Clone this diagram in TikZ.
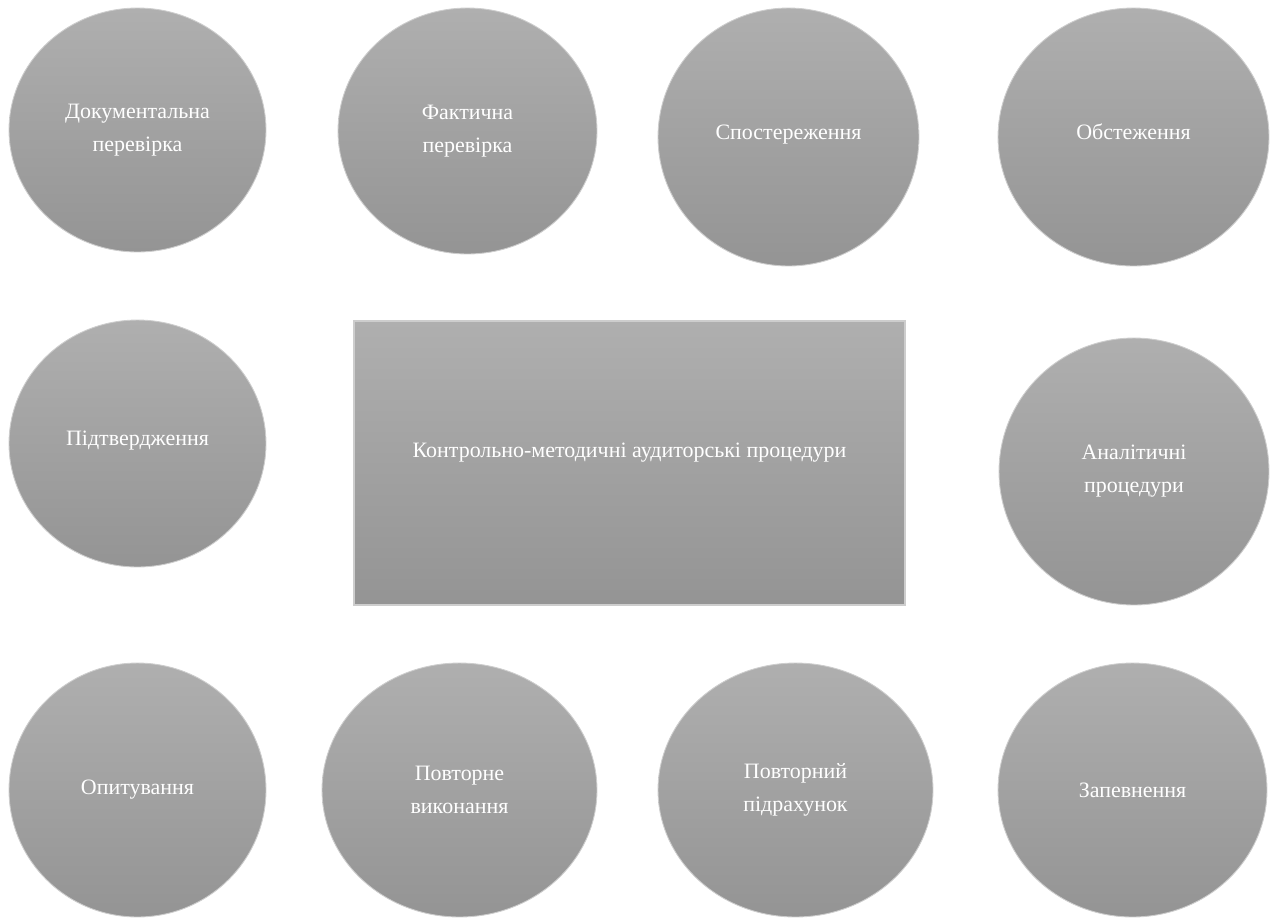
\documentclass[tikz,border=0pt]{standalone}
\usepackage{fontspec}
\setmainfont{Liberation Serif}
\usepackage{tikz}
\usepackage{xcolor}
\usetikzlibrary{shapes.geometric}
\definecolor{greyTop}{RGB}{175,175,175}
\definecolor{greyBottom}{RGB}{148,148,148}
\definecolor{greyEdge}{RGB}{205,205,205}

\begin{document}
\begin{tikzpicture}[x=0.02cm,y=-0.02cm,
  proc/.style={ellipse,top color=greyTop,bottom color=greyBottom,draw=greyEdge,line width=0.5pt,inner sep=0pt,text=white,align=center,font=\fontsize{12.5}{18.8}\selectfont},
  main/.style={rectangle,top color=greyTop,bottom color=greyBottom,draw=greyEdge,line width=0.7pt,inner sep=0pt,text=white,font=\fontsize{12.5}{18.8}\selectfont}]
\useasboundingbox (0,0) rectangle (1271,921);
% верхній ряд
\node[proc,minimum width=5.14cm,minimum height=4.88cm] (doc) at (137.5,130) {Документальна\\перевірка};
\node[proc,minimum width=5.18cm,minimum height=4.92cm] (fact) at (467.5,131) {Фактична\\перевірка};
\node[proc,minimum width=5.22cm,minimum height=5.16cm,text depth=0.18cm] (obs) at (788.5,137) {Спостереження};
\node[proc,minimum width=5.42cm,minimum height=5.16cm,text depth=0.22cm] (insp) at (1133.5,137) {Обстеження};
% середній ряд
\node[proc,minimum width=5.14cm,minimum height=4.94cm,text depth=0.22cm] (conf) at (137.5,443.5) {Підтвердження};
\node[main,minimum width=11.02cm,minimum height=5.68cm,text depth=0.5cm] (core) at (629.5,463) {Контрольно-методичні аудиторські процедури};
\node[proc,minimum width=5.4cm,minimum height=5.34cm] (anal) at (1134,471.5) {Аналітичні\\процедури};
% нижній ряд
\node[proc,minimum width=5.14cm,minimum height=5.08cm] (ask) at (137.5,790) {Опитування};
\node[proc,minimum width=5.5cm,minimum height=5.08cm] (redo) at (459.5,790) {Повторне\\виконання};
\node[proc,minimum width=5.5cm,minimum height=5.08cm] (recount) at (795.5,790) {Повторний\\підрахунок};
\node[proc,minimum width=5.38cm,minimum height=5.08cm] (assure) at (1132.5,790) {Запевнення};
\end{tikzpicture}
\end{document}
